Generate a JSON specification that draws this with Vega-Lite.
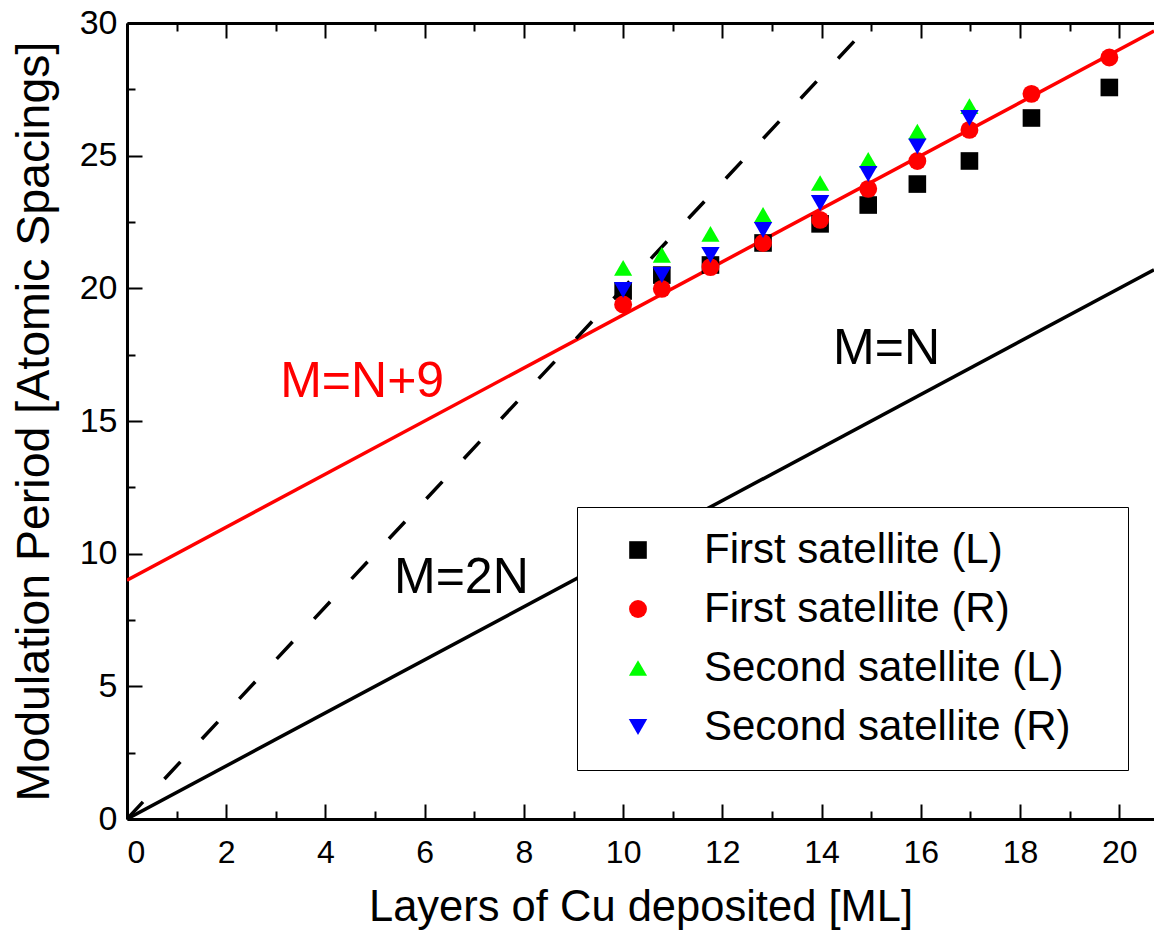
{
  "$schema": "https://vega.github.io/schema/vega-lite/v6.json",
  "width": 1027,
  "height": 796,
  "autosize": {"type": "none"},
  "padding": {"left": 127, "top": 23, "right": 0, "bottom": 117},
  "background": "white",
  "config": {"view": {"stroke": null}, "axis": {"grid": false}},
  "encoding": {
    "y": {
      "field": "M",
      "type": "quantitative",
      "scale": {"domain": [0, 30], "nice": false, "zero": false},
      "title": "Modulation Period [Atomic Spacings]",
      "axis": {
        "values": [0, 2.5, 5, 7.5, 10, 12.5, 15, 17.5, 20, 22.5, 25, 27.5, 30],
        "labelExpr": "datum.value % 5 === 0 ? datum.label : ''",
        "tickSize": {"condition": {"test": "datum.value % 5 === 0", "value": -15}, "value": -8},
        "tickWidth": 2,
        "tickColor": "black",
        "domainColor": "black",
        "domainWidth": 3,
        "labelFont": "Liberation Sans",
        "labelFontSize": 34,
        "labelColor": "black",
        "labelPadding": 25,
        "titleFont": "Liberation Sans",
        "titleFontSize": 46.5,
        "titleFontWeight": "normal",
        "titleColor": "black",
        "titlePadding": 21
      }
    }
  },
  "layer": [
    {
      "data": {"values": [{"N": 0, "M": 9}, {"N": 20.7, "M": 29.7}]},
      "mark": {"type": "line", "color": "#ff0000", "strokeWidth": 3.5, "clip": true},
      "encoding": {
        "x": {
          "field": "N", "type": "quantitative",
          "scale": {"domain": [0, 20.7], "nice": false, "zero": false},
          "title": null,
          "axis": {
            "orient": "top",
            "values": [0, 1, 2, 3, 4, 5, 6, 7, 8, 9, 10, 11, 12, 13, 14, 15, 16, 17, 18, 19, 20],
            "labels": false,
            "tickSize": {"condition": {"test": "datum.value % 2 === 0", "value": -15}, "value": -8},
            "tickWidth": 2,
            "tickColor": "black",
            "domainColor": "black",
            "domainWidth": 3
          }
        }
      }
    },
    {
      "data": {"values": [{"N": 0, "M": 0}, {"N": 20.7, "M": 20.7}]},
      "mark": {"type": "line", "color": "black", "strokeWidth": 3.5, "clip": true},
      "encoding": {
        "x": {"field": "N", "type": "quantitative", "scale": {"domain": [0, 20.7], "nice": false, "zero": false}, "axis": null}
      }
    },
    {
      "data": {"values": [{"N": 0, "M": 0}, {"N": 15, "M": 30}]},
      "mark": {"type": "line", "color": "black", "strokeWidth": 3.5, "strokeDash": [23.4, 31.4], "clip": true},
      "encoding": {
        "x": {"field": "N", "type": "quantitative", "scale": {"domain": [0, 20.7], "nice": false, "zero": false}, "axis": null}
      }
    },
    {
      "data": {"values": [
        {"series": "First satellite (L)", "N": 10.0, "M": 19.9},
        {"series": "First satellite (L)", "N": 10.78, "M": 20.5},
        {"series": "First satellite (L)", "N": 11.76, "M": 20.88},
        {"series": "First satellite (L)", "N": 12.82, "M": 21.71},
        {"series": "First satellite (L)", "N": 13.97, "M": 22.43},
        {"series": "First satellite (L)", "N": 14.94, "M": 23.14},
        {"series": "First satellite (L)", "N": 15.93, "M": 23.93},
        {"series": "First satellite (L)", "N": 16.98, "M": 24.8},
        {"series": "First satellite (L)", "N": 18.23, "M": 26.42},
        {"series": "First satellite (L)", "N": 19.8, "M": 27.57},
        {"series": "First satellite (R)", "N": 10.0, "M": 19.39},
        {"series": "First satellite (R)", "N": 10.78, "M": 19.98},
        {"series": "First satellite (R)", "N": 11.76, "M": 20.8},
        {"series": "First satellite (R)", "N": 12.82, "M": 21.71},
        {"series": "First satellite (R)", "N": 13.97, "M": 22.58},
        {"series": "First satellite (R)", "N": 14.94, "M": 23.75},
        {"series": "First satellite (R)", "N": 15.93, "M": 24.8},
        {"series": "First satellite (R)", "N": 16.98, "M": 25.97},
        {"series": "First satellite (R)", "N": 18.23, "M": 27.33},
        {"series": "First satellite (R)", "N": 19.8, "M": 28.7},
        {"series": "Second satellite (L)", "N": 10.0, "M": 20.77},
        {"series": "Second satellite (L)", "N": 10.78, "M": 21.26},
        {"series": "Second satellite (L)", "N": 11.76, "M": 22.05},
        {"series": "Second satellite (L)", "N": 12.82, "M": 22.77},
        {"series": "Second satellite (L)", "N": 13.97, "M": 23.97},
        {"series": "Second satellite (L)", "N": 14.94, "M": 24.84},
        {"series": "Second satellite (L)", "N": 15.93, "M": 25.91},
        {"series": "Second satellite (L)", "N": 16.98, "M": 26.87},
        {"series": "Second satellite (R)", "N": 10.0, "M": 19.94},
        {"series": "Second satellite (R)", "N": 10.78, "M": 20.5},
        {"series": "Second satellite (R)", "N": 11.76, "M": 21.26},
        {"series": "Second satellite (R)", "N": 12.82, "M": 22.2},
        {"series": "Second satellite (R)", "N": 13.97, "M": 23.22},
        {"series": "Second satellite (R)", "N": 14.94, "M": 24.31},
        {"series": "Second satellite (R)", "N": 15.93, "M": 25.35},
        {"series": "Second satellite (R)", "N": 16.98, "M": 26.42}
      ]},
      "mark": {"type": "point", "filled": true, "opacity": 1, "strokeWidth": 0},
      "encoding": {
        "x": {
          "field": "N", "type": "quantitative",
          "scale": {"domain": [0, 20.7], "nice": false, "zero": false},
          "title": "Layers of Cu deposited [ML]",
          "axis": {
            "orient": "bottom",
            "values": [0, 1, 2, 3, 4, 5, 6, 7, 8, 9, 10, 11, 12, 13, 14, 15, 16, 17, 18, 19, 20],
            "labelExpr": "datum.value % 2 === 0 ? datum.label : ''",
            "tickSize": {"condition": {"test": "datum.value % 2 === 0", "value": -15}, "value": -8},
            "tickWidth": 2,
            "tickColor": "black",
            "domainColor": "black",
            "domainWidth": 3,
            "labelFont": "Liberation Sans",
            "labelFontSize": 32,
            "labelColor": "black",
            "labelPadding": 33,
            "titleFont": "Liberation Sans",
            "titleFontSize": 43.5,
            "titleFontWeight": "normal",
            "titleColor": "black",
            "titlePadding": 18
          }
        },
        "color": {
          "field": "series", "type": "nominal",
          "scale": {"domain": ["First satellite (L)", "First satellite (R)", "Second satellite (L)", "Second satellite (R)"], "range": ["#000000", "#ff0000", "#00ff00", "#0000ff"]},
          "legend": {
            "orient": "none", "legendX": 450, "legendY": 484, "title": null,
            "padding": 22, "strokeColor": "black", "fillColor": "white",
            "labelFont": "Liberation Sans", "labelFontSize": 42, "labelColor": "black", "labelLimit": 0,
            "labelExpr": "datum.label + '\u00a0\u00a0\u00a0\u200b'",
            "symbolSize": 340, "symbolStrokeWidth": 0, "rowPadding": 17, "labelOffset": 45, "symbolOffset": 18
          }
        },
        "shape": {
          "field": "series", "type": "nominal",
          "scale": {"domain": ["First satellite (L)", "First satellite (R)", "Second satellite (L)", "Second satellite (R)"], "range": ["square", "circle", "triangle-up", "triangle-down"]},
          "legend": {
            "orient": "none", "legendX": 450, "legendY": 484, "title": null,
            "padding": 22, "strokeColor": "black", "fillColor": "white",
            "labelFont": "Liberation Sans", "labelFontSize": 42, "labelColor": "black", "labelLimit": 0,
            "labelExpr": "datum.label + '\u00a0\u00a0\u00a0\u200b'",
            "symbolSize": 340, "symbolStrokeWidth": 0, "rowPadding": 17, "labelOffset": 45, "symbolOffset": 18
          }
        },
        "size": {
          "field": "series", "type": "nominal",
          "scale": {"domain": ["First satellite (L)", "First satellite (R)", "Second satellite (L)", "Second satellite (R)"], "range": [310, 340, 500, 500]},
          "legend": null
        }
      }
    },
    {
      "data": {"values": [{"N": 4.74, "M": 15.9, "label": "M=N+9"}]},
      "mark": {"type": "text", "color": "#ff0000", "font": "Liberation Sans", "fontSize": 50, "align": "center", "baseline": "alphabetic"},
      "encoding": {
        "x": {"field": "N", "type": "quantitative", "scale": {"domain": [0, 20.7], "nice": false, "zero": false}, "axis": null},
        "text": {"field": "label"}
      }
    },
    {
      "data": {"values": [{"N": 15.31, "M": 17.15, "label": "M=N"}, {"N": 6.74, "M": 8.52, "label": "M=2N"}]},
      "mark": {"type": "text", "color": "black", "font": "Liberation Sans", "fontSize": 50, "align": "center", "baseline": "alphabetic"},
      "encoding": {
        "x": {"field": "N", "type": "quantitative", "scale": {"domain": [0, 20.7], "nice": false, "zero": false}, "axis": null},
        "text": {"field": "label"}
      }
    }
  ],
  "resolve": {"axis": {"x": "independent"}}
}
